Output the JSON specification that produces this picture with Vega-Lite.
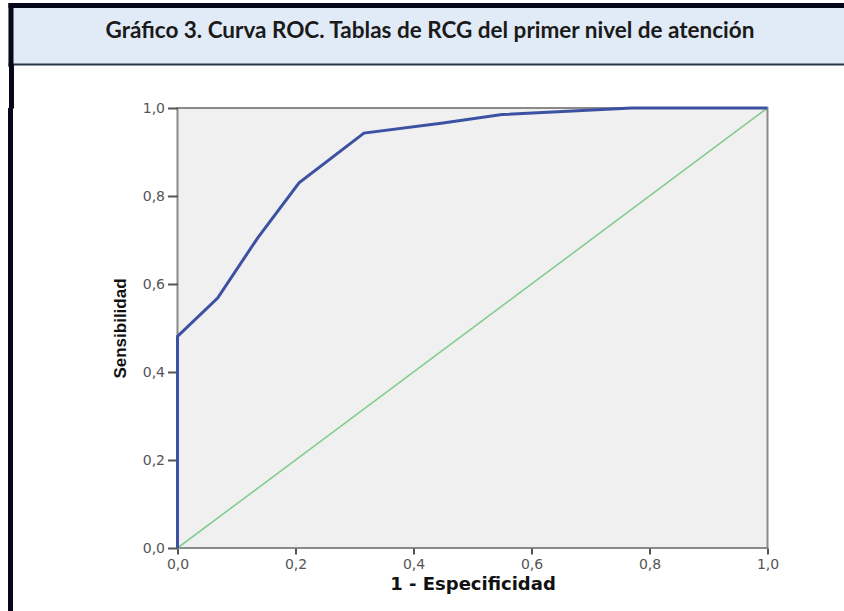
{
  "$schema": "https://vega.github.io/schema/vega-lite/v6.json",
  "background": "white",
  "padding": {"left": 8, "top": 5, "right": 0, "bottom": 0},
  "spacing": -8,
  "config": {
    "axis": {
      "labelFont": "DejaVu Sans",
      "labelFontSize": 14,
      "labelColor": "#555555",
      "labelFlush": false,
      "tickColor": "#555555",
      "tickWidth": 2,
      "tickSize": 6,
      "domain": false,
      "grid": false,
      "titleFont": "Liberation Sans",
      "titleFontWeight": "bold",
      "titleColor": "#111111"
    }
  },
  "vconcat": [
    {
      "width": 836,
      "height": 59,
      "view": {"fill": "#e1ebf7", "stroke": null},
      "data": {"values": [{"titulo": "Gráfico 3. Curva ROC. Tablas de RCG del primer nivel de atención"}]},
      "layer": [
        {
          "mark": {"type": "text", "font": "Lato", "fontWeight": "bold", "fontSize": 22.5, "color": "#1a1a1a", "dy": -4, "dx": 4},
          "encoding": {
            "text": {"field": "titulo", "type": "nominal"},
            "x": {"datum": 0.5, "type": "quantitative", "scale": {"domain": [0, 1]},
              "axis": {"orient": "top", "domain": true, "domainColor": "#07071a", "domainWidth": 5, "domainCap": "butt", "ticks": false, "labels": false, "title": null}},
            "y": {"datum": 0.5, "type": "quantitative", "scale": {"domain": [0, 1]},
              "axis": {"orient": "left", "offset": -2.5, "domain": true, "domainColor": "#07071a", "domainWidth": 5, "domainCap": "square", "ticks": false, "labels": false, "title": null}}
          }
        },
        {
          "mark": {"type": "text", "opacity": 0},
          "encoding": {
            "text": {"field": "titulo", "type": "nominal"},
            "x": {"datum": 0.5, "type": "quantitative",
              "axis": {"orient": "bottom", "domain": true, "domainColor": "#2a3444", "domainWidth": 2, "values": [0], "ticks": true, "tickOffset": 2.5, "tickSize": 36.5, "tickWidth": 5, "tickColor": "#07071a", "labels": false, "title": null}}
          }
        }
      ],
      "resolve": {"axis": {"x": "independent"}}
    },
    {
      "spacing": 95.5,
      "hconcat": [
        {
          "width": 5,
          "height": 504,
          "view": {"fill": "#07071a", "stroke": null},
          "data": {"values": [{"v": 0}]},
          "mark": {"type": "rule", "strokeOpacity": 0},
          "encoding": {
            "x": {"datum": 0.5, "type": "quantitative", "scale": {"domain": [0, 1]},
              "axis": {"orient": "top", "values": [0.5], "ticks": true, "tickSize": 10, "tickWidth": 5, "tickColor": "#07071a", "labels": false, "domain": false, "title": null}}
          }
        },
        {
          "width": 590,
          "height": 440,
          "view": {"fill": "#f0f0f0", "stroke": "#8a8a8a", "strokeWidth": 2},
          "data": {
            "values": [
              {"serie": "Referencia", "orden": 1, "fpr": 0, "tpr": 0},
              {"serie": "Referencia", "orden": 2, "fpr": 1, "tpr": 1},
              {"serie": "Curva ROC", "orden": 1, "fpr": 0, "tpr": 0},
              {"serie": "Curva ROC", "orden": 2, "fpr": 0, "tpr": 0.481},
              {"serie": "Curva ROC", "orden": 3, "fpr": 0.068, "tpr": 0.568},
              {"serie": "Curva ROC", "orden": 4, "fpr": 0.136, "tpr": 0.705},
              {"serie": "Curva ROC", "orden": 5, "fpr": 0.206, "tpr": 0.83},
              {"serie": "Curva ROC", "orden": 6, "fpr": 0.316, "tpr": 0.943},
              {"serie": "Curva ROC", "orden": 7, "fpr": 0.45, "tpr": 0.966},
              {"serie": "Curva ROC", "orden": 8, "fpr": 0.55, "tpr": 0.985},
              {"serie": "Curva ROC", "orden": 9, "fpr": 0.77, "tpr": 1.0},
              {"serie": "Curva ROC", "orden": 10, "fpr": 1.0, "tpr": 1.0}
            ]
          },
          "mark": {"type": "line", "clip": false},
          "encoding": {
            "x": {
              "field": "fpr", "type": "quantitative",
              "scale": {"domain": [0, 1], "nice": false},
              "axis": {
                "values": [0, 0.2, 0.4, 0.6, 0.8, 1],
                "labelExpr": "replace(format(datum.value, '.1f'), '.', ',')",
                "labelPadding": 3,
                "title": "1 - Especificidad",
                "titleFont": "DejaVu Sans",
                "titleFontSize": 18,
                "titlePadding": 4
              }
            },
            "y": {
              "field": "tpr", "type": "quantitative",
              "scale": {"domain": [0, 1], "nice": false},
              "axis": {
                "values": [0, 0.2, 0.4, 0.6, 0.8, 1],
                "labelExpr": "replace(format(datum.value, '.1f'), '.', ',')",
                "labelPadding": 3,
                "tickSize": 10,
                "title": "Sensibilidad",
                "titleFontSize": 17,
                "titlePadding": 13
              }
            },
            "color": {
              "field": "serie", "type": "nominal",
              "scale": {"domain": ["Referencia", "Curva ROC"], "range": ["#84cd8f", "#3d51a3"]},
              "legend": null
            },
            "strokeWidth": {
              "field": "serie", "type": "nominal",
              "scale": {"domain": ["Referencia", "Curva ROC"], "range": [1.6, 3]},
              "legend": null
            },
            "detail": {"field": "serie"},
            "order": {"field": "orden", "type": "quantitative"}
          }
        }
      ]
    }
  ]
}
